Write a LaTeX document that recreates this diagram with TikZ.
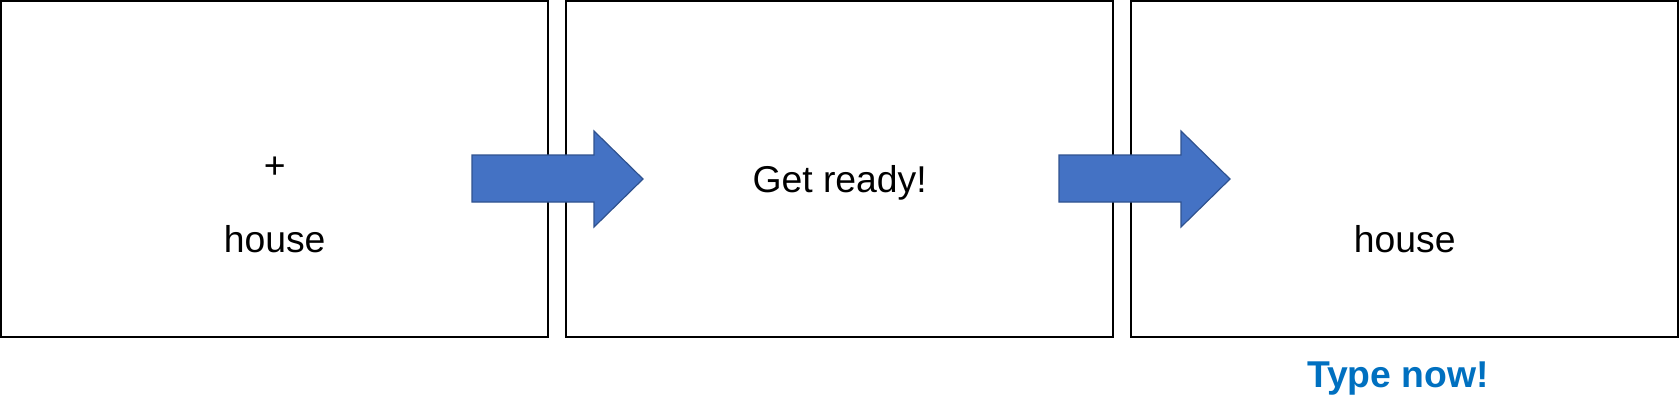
\documentclass[tikz,border=0pt]{standalone}
\usepackage{fontspec}
\setmainfont{Liberation Sans}
\usetikzlibrary{positioning}
\definecolor{arrowfill}{HTML}{4472C4}
\definecolor{arrowline}{HTML}{2F528F}
\definecolor{cuetext}{HTML}{0070C0}
\tikzset {
  every node/.style={font=\fontsize{28}{33}\selectfont},
  screen/.style={draw, line width=1.5pt, minimum width=410.5pt,
    minimum height=252pt, inner sep=0pt},
  blockarrow/.style={fill=arrowfill, draw=arrowline, line width=0.9pt},
}

\begin{document}
\begin{tikzpicture}[x=0.75pt,y=-0.75pt]
  \useasboundingbox (0,0) rectangle (1680,419);
  % the three screens
  \foreach \i/\cx in {1/274.65,2/839.65,3/1404.65}
    \node[screen] (screen\i) at (\cx,169) {};
  % block arrows between screens
  \foreach \x in {472,1059}
    \draw[blockarrow] (\x,155) -- ++(122,0) -- ++(0,-24) -- ++(49,48)
      -- ++(-49,48) -- ++(0,-25) -- ++(-122,0) -- cycle;
  \node[anchor=base] (fixation) at (274.65,178) {+};
  \node[anchor=base] (prime) at (274.65,252) {house};
  \node[anchor=base] (ready) at (839.65,192) {Get ready!};
  \node[anchor=base] (target) at (1404.65,252) {house};
  \node[anchor=base, text=cuetext,
    font=\fontsize{28}{33}\selectfont\bfseries] (cue) at (1398,387) {Type now!};
\end{tikzpicture}
\end{document}
